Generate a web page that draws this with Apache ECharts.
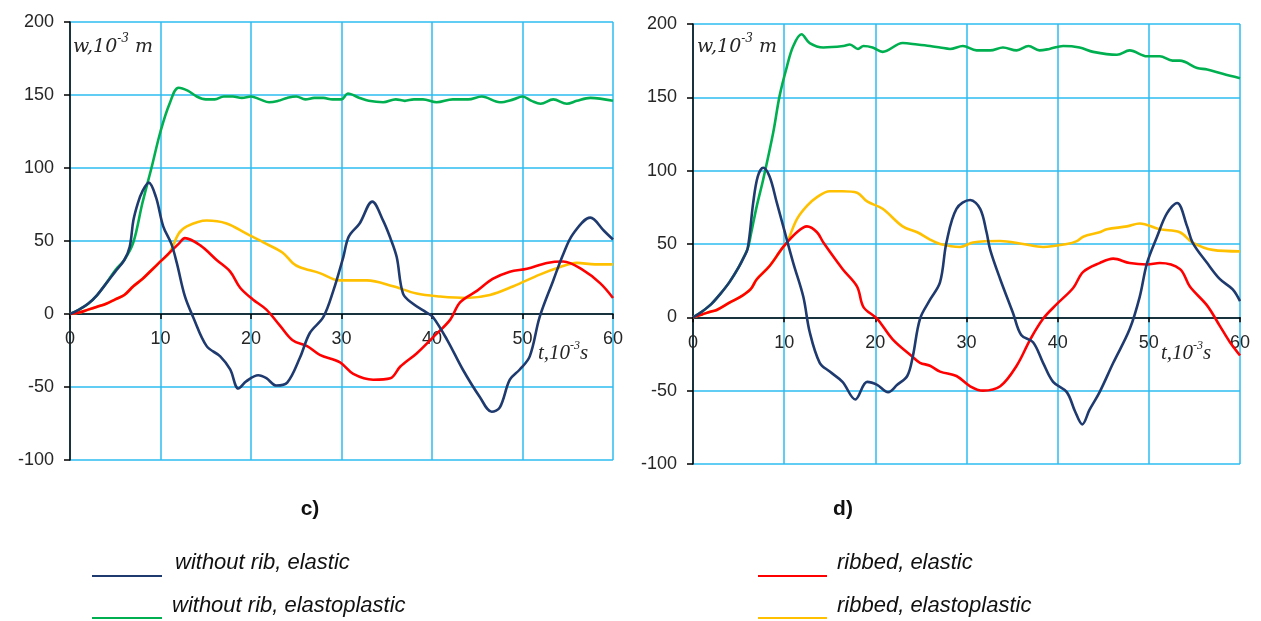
<!DOCTYPE html>
<html>
<head>
<meta charset="utf-8">
<script src="https://cdn.jsdelivr.net/npm/echarts@6/dist/echarts.min.js"></script>
<style>
  html, body { margin: 0; padding: 0; background: #fff; }
  #chart { width: 1261px; height: 621px; }
</style>
</head>
<body>
<div id="chart"></div>
<script>
// time in 10^-3 s, deflection w in 10^-3 m
const yTicks = [-100, -50, 0, 50, 100, 150, 200]
const xTicks = [0, 10, 20, 30, 40, 50, 60]

// c) panel
const cElastic = [[0,0],[1,3],[2,7],[3,13],[4,21],[5,29],[6,37],[6.6,46],[7,64],[7.5,76],[8,84],[8.7,90],[9.5,80],[10.3,60],[11.2,48],[11.8,35],[12.7,12],[13.6,-2],[15.1,-22],[16.6,-29],[17.7,-38],[18.6,-51],[19.5,-46],[20.8,-42],[21.7,-44],[22.8,-49],[24,-47],[25.4,-30],[26.5,-13],[28,-2],[29.1,16],[30.2,39],[30.8,53],[32,62],[33.4,77],[34.6,64],[35.4,52],[36.1,39],[36.8,14],[37.9,7],[39.4,1],[40.1,-2],[41.7,-18],[43.4,-38],[45.3,-57],[46.6,-67],[47.5,-64],[48.6,-45],[49.7,-38],[50.8,-29],[51.9,-2],[53.4,23],[54.5,41],[55.6,55],[57.5,66],[59,57],[60,51]]
const cElastoplastic = [[0,0],[1,3],[2,7],[3,13],[4,21],[5,30],[6,37],[7,49],[8,76],[9,100],[10,125],[11,144],[12,155],[13,153],[14,149],[15,147],[16,147],[17,149],[18,149],[19,148],[20,149],[21,147],[22,145],[23,146],[24,148],[25,149],[26,147],[27,148],[28,148],[29,147],[30,147],[30.7,151],[32,148],[33,146],[34.6,145],[36,147],[37,146],[38,147],[39,147],[40.5,145],[42.3,147],[44,147],[45.5,149],[47.5,145],[49,147],[50,149],[51,146],[52,144],[53.4,147],[54.9,144],[56,146],[57.5,148],[60,146]]
const cRibElastic = [[0,0],[1,1],[2,3],[3,5],[4,7],[5,10],[6,13],[7,19],[8,24],[9,30],[10,36],[11,42],[12,48],[12.7,52],[14.4,47],[16.2,37],[17.7,29],[18.8,18],[20.2,10],[21.7,3],[23.2,-8],[24.6,-18],[26.2,-22],[27.6,-28],[29.8,-33],[31.3,-41],[33.5,-45],[35.4,-44],[36.5,-36],[38.3,-27],[40.1,-16],[42,-4],[43.1,8],[45,16],[46.7,24],[48.6,29],[50.5,31],[52.7,35],[54.5,36],[56.7,30],[58.6,21],[60,11]]
const cRibElastoplastic = [[0,0],[1,1],[2,3],[3,5],[4,7],[5,10],[6,13],[7,19],[8,24],[9,30],[10,36],[11,42],[12,55],[12.9,60],[15.1,64],[17.3,62],[19.5,55],[21.7,48],[23.5,42],[24.6,35],[25.4,32],[27.6,28],[29.8,23],[32.8,23],[35.7,19],[38.3,14],[40.9,12],[43.8,11],[46.4,13],[49,19],[51.9,27],[54.1,32],[56,35],[58,34],[60,34]]

// d) panel
const dElastic = [[0,0],[1,4],[2,9],[3,16],[4,24],[5,34],[5.5,40],[6,47],[6.6,78],[7.1,96],[7.7,102],[8.4,96],[9.2,78],[9.9,62],[11,37],[12.1,14],[12.8,-10],[13.9,-31],[15,-37],[16.4,-44],[17.8,-56],[19.1,-44],[20.2,-46],[21.4,-51],[22.4,-46],[23.5,-40],[24.1,-27],[24.9,-1],[26,12],[27.1,24],[27.8,51],[28.9,74],[30.4,80],[31.5,74],[32.2,58],[32.6,46],[33.7,26],[35.1,3],[36,-12],[37.3,-17],[38.4,-31],[39.5,-44],[41,-51],[41.9,-64],[42.7,-73],[43.5,-63],[44.6,-51],[46.1,-31],[47.9,-8],[49,14],[49.8,37],[50.9,55],[52,71],[53.1,78],[54.2,62],[54.8,51],[56.4,37],[57.8,26],[59.2,19],[60,11]]
const dElastoplastic = [[0,0],[1,4],[2,9],[3,16],[4,24],[5,34],[6,47],[6.3,55],[7,76],[7.7,94],[8.8,126],[9.5,151],[10.3,171],[11,185],[11.9,193],[12.8,187],[14.3,184],[16.5,185],[17.2,186],[18.1,183],[18.7,185],[19.7,184],[20.8,181],[23,187],[24.6,186],[26,185],[27.1,184],[28.2,183],[29.6,185],[31.1,182],[32.6,182],[34,184],[35.5,182],[36.8,185],[38,182],[39.1,183],[40.6,185],[42.4,184],[43.9,181],[46.5,179],[47.9,182],[49.8,178],[51.2,178],[52.6,175],[53.4,175],[55.3,170],[56.4,169],[58.1,166],[60,163]]
const dRibElastic = [[0,0],[1,2],[2,4],[2.6,5],[4,10],[5.2,14],[6.3,19],[7,26],[8.4,35],[9.9,48],[11.4,58],[12.5,62],[13.6,58],[14.3,51],[16.4,33],[18,21],[18.7,7],[20.2,-1],[21.9,-15],[24.1,-27],[24.9,-31],[26,-33],[27.1,-37],[28.9,-40],[30.4,-47],[31.8,-50],[33.7,-47],[35.5,-33],[37,-15],[38.4,-1],[39.9,9],[41.7,20],[42.8,31],[44.6,37],[46.1,40],[47.9,37],[49.8,36],[51.2,37],[53.4,33],[54.5,21],[56.4,8],[57.8,-6],[58.9,-17],[60,-26]]
const dRibElastoplastic = [[0,0],[1,2],[2,4],[2.6,5],[4,10],[5.2,14],[6.3,19],[7,26],[8.4,35],[9.9,48],[10.3,51],[11.4,67],[12.5,76],[13.6,82],[15,86],[16.4,86],[18,85],[19.1,79],[20.8,74],[23,62],[24.6,58],[26,53],[27.1,50],[29.3,48],[30.7,51],[33.7,52],[36.2,50],[38.4,48],[41,50],[42.1,52],[42.8,55],[44.6,58],[45.4,60],[47.6,62],[49,64],[51.2,60],[53.4,58],[54.8,51],[57,46],[60,45]]

const seriesNames = ['without rib, elastic', 'without rib, elastoplastic', 'ribbed, elastic', 'ribbed, elastoplastic']
const colors = ['#1f3a6e', '#00b050', '#ff0000', '#ffc000']

const gridBlue = '#2dbbf0'
const labelFont = '"Liberation Sans", Arial, sans-serif'

const makeX = (idx) => ({
  type: 'value',
  gridIndex: idx,
  min: xTicks[0],
  max: xTicks[xTicks.length - 1],
  interval: 10,
  axisLine: { onZero: true, lineStyle: { color: '#000', width: 1.5 } },
  axisTick: { show: true, length: 5, lineStyle: { color: '#000', width: 1.5 } },
  // labels sit just under the zero line, not at the grid bottom
  axisLabel: { fontSize: 18, color: '#262626', fontFamily: labelFont, margin: -130, showMinLabel: true, showMaxLabel: true },
  splitLine: { show: true, lineStyle: { color: gridBlue, width: 1.5 } }
})

const makeY = (idx) => ({
  type: 'value',
  gridIndex: idx,
  min: yTicks[0],
  max: yTicks[yTicks.length - 1],
  interval: 50,
  axisLine: { show: true, onZero: false, lineStyle: { color: '#000', width: 1.5 } },
  axisTick: { show: true, length: 6, lineStyle: { color: '#000', width: 1.5 } },
  axisLabel: { fontSize: 18, color: '#262626', fontFamily: labelFont, margin: 16 },
  splitLine: { show: true, lineStyle: { color: gridBlue, width: 1.5 } }
})

const makeLine = (name, data, color, idx) => ({
  name: name,
  type: 'line',
  xAxisIndex: idx,
  yAxisIndex: idx,
  data: data,
  smooth: 0.35,
  showSymbol: false,
  symbol: 'none',
  lineStyle: { color: color, width: 2.6 },
  itemStyle: { color: color }
})

const axisTitle = (left, top, main, sup, tail, serif) => ({
  type: 'text',
  left: left,
  top: top,
  style: {
    text: '{b|' + main + '}{s|' + sup + '}{b|' + tail + '}',
    rich: {
      b: { fontSize: serif ? 21 : 19, fontStyle: 'italic', fontFamily: serif ? '"Liberation Serif", serif' : '"DejaVu Serif", serif', fill: '#262626', lineHeight: 24, verticalAlign: 'bottom' },
      s: { fontSize: 12, fontStyle: 'italic', fontFamily: serif ? '"Liberation Serif", serif' : '"DejaVu Serif", serif', fill: '#262626', lineHeight: 24, verticalAlign: 'top' }
    }
  },
  z: 10
})

const legendItem = (x1, x2, y, color, textX, textY, label) => ([
  { type: 'line', shape: { x1: x1, y1: y, x2: x2, y2: y }, style: { stroke: color, lineWidth: 2 } },
  { type: 'text', x: textX, y: textY, style: { text: label, fontSize: 22, fontStyle: 'italic', fontFamily: labelFont, fill: '#111', verticalAlign: 'middle' } }
])

const chart = echarts.init(document.getElementById('chart'), null, { renderer: 'canvas' })

const option = {
  animation: false,
  backgroundColor: '#fff',
  grid: [
    { left: 70, top: 22, width: 543, height: 438 },
    { left: 693, top: 24, width: 547, height: 440 }
  ],
  xAxis: [makeX(0), makeX(1)],
  yAxis: [makeY(0), makeY(1)],
  series: [
    makeLine(seriesNames[1], cElastoplastic, colors[1], 0),
    makeLine(seriesNames[3], cRibElastoplastic, colors[3], 0),
    makeLine(seriesNames[2], cRibElastic, colors[2], 0),
    makeLine(seriesNames[0], cElastic, colors[0], 0),
    makeLine(seriesNames[1], dElastoplastic, colors[1], 1),
    makeLine(seriesNames[3], dRibElastoplastic, colors[3], 1),
    makeLine(seriesNames[2], dRibElastic, colors[2], 1),
    makeLine(seriesNames[0], dElastic, colors[0], 1)
  ],
  graphic: [
    axisTitle(73, 33, 'w,10', '-3', ' m', false),
    axisTitle(697, 33, 'w,10', '-3', ' m', false),
    axisTitle(538, 340, 't,10', '-3', 's', true),
    axisTitle(1161, 340, 't,10', '-3', 's', true),
    { type: 'text', x: 310, y: 509, style: { text: 'c)', fontSize: 21, fontWeight: 'bold', fontFamily: labelFont, fill: '#111', align: 'center', verticalAlign: 'middle' } },
    { type: 'text', x: 843, y: 509, style: { text: 'd)', fontSize: 21, fontWeight: 'bold', fontFamily: labelFont, fill: '#111', align: 'center', verticalAlign: 'middle' } },
    ...legendItem(92, 162, 576, colors[0], 175, 563, seriesNames[0]),
    ...legendItem(92, 162, 618, colors[1], 172, 606, seriesNames[1]),
    ...legendItem(758, 827, 576, colors[2], 837, 563, seriesNames[2]),
    ...legendItem(758, 827, 618, colors[3], 837, 606, seriesNames[3])
  ]
}

chart.setOption(option)
</script>
</body>
</html>
